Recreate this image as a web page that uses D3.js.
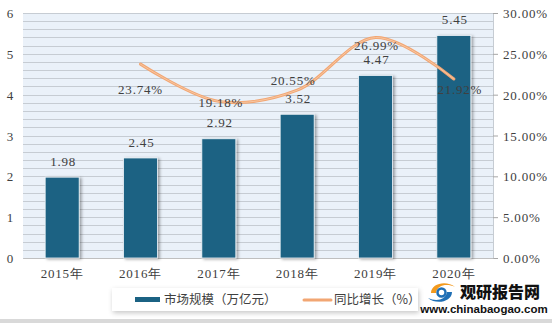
<!DOCTYPE html>
<html>
<head>
<meta charset="utf-8">
<script src="https://cdn.jsdelivr.net/npm/d3@7"></script>
<style>
  html, body { margin: 0; padding: 0; background: #fff; }
  svg { display: block; }
  .num { font-family: "Liberation Serif", "DejaVu Serif", serif; font-size: 13px; fill: #404040; letter-spacing: 0.8px; }
  .cjk { font-family: "Noto Sans CJK SC", sans-serif; }
</style>
</head>
<body>
<svg id="chart" width="552" height="323"></svg>
<script>
// Market size (trillion yuan) and year-on-year growth (%)
const years = ["2015年", "2016年", "2017年", "2018年", "2019年", "2020年"];
const marketSize = [1.98, 2.45, 2.92, 3.52, 4.47, 5.45];
const growthYears = ["2016年", "2017年", "2018年", "2019年", "2020年"];
const growth = [23.74, 19.18, 20.55, 26.99, 21.92];
const leftTicks = [0, 1, 2, 3, 4, 5, 6];
const rightTicks = [0, 5, 10, 15, 20, 25, 30];
const seriesNames = ["市场规模（万亿元）", "同比增长（%）"];

// hand-tuned label nudges for the growth labels [dx, dy]
const growthLabelNudge = [[0, 25], [2, 1], [-4, -10], [1, 8], [6, 10]];

const svg = d3.select("#chart");
const plot = { left: 23, right: 493, top: 13, bottom: 258 };

const defs = svg.append("defs");
const shadow = defs.append("filter").attr("id", "barShadow")
  .attr("x", "-30%").attr("y", "-10%").attr("width", "160%").attr("height", "130%");
shadow.append("feDropShadow").attr("dx", 2).attr("dy", 1).attr("stdDeviation", 1.6)
  .attr("flood-color", "#000").attr("flood-opacity", 0.35);
const boxShadow = defs.append("filter").attr("id", "boxShadow")
  .attr("x", "-10%").attr("y", "-40%").attr("width", "120%").attr("height", "180%");
boxShadow.append("feDropShadow").attr("dx", 1).attr("dy", 2).attr("stdDeviation", 2.5)
  .attr("flood-color", "#000").attr("flood-opacity", 0.22);

const x = d3.scaleBand().domain(years).range([plot.left, plot.right])
  .paddingInner(0.566).paddingOuter(0.283);
const yL = d3.scaleLinear().domain([0, 6]).range([plot.bottom, plot.top]);
const yR = d3.scaleLinear().domain([0, 30]).range([plot.bottom, plot.top]);

// plot background
svg.append("rect").attr("x", plot.left).attr("y", plot.top)
  .attr("width", plot.right - plot.left).attr("height", plot.bottom - plot.top)
  .attr("fill", "#eaf1f9");

// horizontal gridlines every 0.2
svg.append("g").selectAll("line").data(d3.range(0, 6.0001, 0.2))
  .join("line")
  .attr("x1", plot.left).attr("x2", plot.right)
  .attr("y1", d => Math.round(yL(d)) + 0.5).attr("y2", d => Math.round(yL(d)) + 0.5)
  .attr("stroke", "#c6ccd3").attr("stroke-width", 1);

// right border of the plot
svg.append("line").attr("x1", plot.right + 0.5).attr("x2", plot.right + 0.5)
  .attr("y1", plot.top).attr("y2", plot.bottom).attr("stroke", "#c6ccd3");

// left axis
const leftAxis = svg.append("g").attr("transform", `translate(${plot.left},0)`)
  .call(d3.axisLeft(yL).tickValues(leftTicks).tickFormat(d3.format("d"))
    .tickSize(0).tickPadding(9));
leftAxis.select(".domain").remove();
leftAxis.selectAll("text").attr("class", "num").attr("font-size", null).attr("font-family", null)
  .attr("dy", "0.35em");

// right axis
const rightAxis = svg.append("g").attr("transform", `translate(${plot.right},0)`)
  .call(d3.axisRight(yR).tickValues(rightTicks).tickSize(5).tickPadding(5)
    .tickFormat(d => d.toFixed(2) + "%"));
rightAxis.select(".domain").remove();
rightAxis.selectAll("line").attr("stroke", "#a6a6a6");
rightAxis.selectAll("text").attr("class", "num").attr("font-size", null).attr("font-family", null)
  .attr("dy", "0.35em");

// bottom axis
const bottomAxis = svg.append("g").attr("transform", `translate(0,${plot.bottom})`)
  .call(d3.axisBottom(x).tickSize(0).tickPadding(11));
bottomAxis.select(".domain").attr("stroke", "#bfbfbf");
bottomAxis.selectAll("text").attr("class", "num").attr("font-size", null).attr("font-family", null)
  .attr("letter-spacing", "0.3px");

// bars
svg.append("g").selectAll("rect").data(marketSize)
  .join("rect")
  .attr("x", (d, i) => x(years[i]))
  .attr("y", d => yL(d))
  .attr("width", x.bandwidth())
  .attr("height", d => plot.bottom - yL(d))
  .attr("fill", "#1b6283")
  .attr("stroke", "#f2f6fa").attr("stroke-width", 0.8)
  .attr("filter", "url(#barShadow)");

// bar value labels
svg.append("g").selectAll("text").data(marketSize)
  .join("text").attr("class", "num")
  .attr("x", (d, i) => x(years[i]) + x.bandwidth() / 2 + 1)
  .attr("y", d => yL(d) - 16)
  .attr("text-anchor", "middle").attr("dy", "0.35em")
  .text(d => d.toFixed(2));

// growth line
const pts = growth.map((g, i) => [x(growthYears[i]) + x.bandwidth() / 2, yR(g)]);
const line = d3.line().curve(d3.curveCatmullRom.alpha(0.5));
svg.append("path").attr("d", line(pts))
  .attr("fill", "none").attr("stroke", "#f2a673").attr("stroke-width", 3)
  .attr("stroke-linecap", "round");
svg.append("path").attr("d", line(pts))
  .attr("fill", "none").attr("stroke", "#f8c7a2").attr("stroke-width", 1)
  .attr("stroke-linecap", "round");

// growth labels
svg.append("g").selectAll("text").data(growth)
  .join("text").attr("class", "num")
  .attr("x", (d, i) => pts[i][0] + growthLabelNudge[i][0])
  .attr("y", (d, i) => pts[i][1] + growthLabelNudge[i][1])
  .attr("text-anchor", "middle").attr("dy", "0.35em")
  .text(d => d.toFixed(2) + "%");

// legend
const legend = svg.append("g");
legend.append("rect").attr("x", 112).attr("y", 288).attr("width", 306).attr("height", 23)
  .attr("fill", "#fff").attr("filter", "url(#boxShadow)");
legend.append("rect").attr("x", 135).attr("y", 297).attr("width", 25).attr("height", 5)
  .attr("fill", "#1b6283");
legend.append("text").attr("class", "cjk").attr("x", 164).attr("y", 300)
  .attr("dy", "0.35em").attr("font-size", 12.5).attr("fill", "#404040").text(seriesNames[0]);
legend.append("line").attr("x1", 304).attr("x2", 331).attr("y1", 300).attr("y2", 300)
  .attr("stroke", "#f2a673").attr("stroke-width", 3).attr("stroke-linecap", "round");
legend.append("text").attr("class", "cjk").attr("x", 334).attr("y", 300)
  .attr("dy", "0.35em").attr("font-size", 12.5).attr("fill", "#404040").text(seriesNames[1]);

// publisher mark
const logo = svg.append("g");
logo.append("path").attr("d", "M431,293 C431,283 447,280 455,287 C447,283 437,285 436,293 Z")
  .attr("fill", "#f39a1e");
logo.append("path").attr("d", "M452,292 C452,302 436,305 428,298 C436,302 446,300 447,292 Z")
  .attr("fill", "#1f6fb5");
logo.append("circle").attr("cx", 441.5).attr("cy", 292.5).attr("r", 4).attr("fill", "none")
  .attr("stroke", "#1f6fb5").attr("stroke-width", 2.5);
logo.append("text").attr("class", "cjk").attr("x", 500).attr("y", 292)
  .attr("text-anchor", "middle").attr("dy", "0.35em")
  .attr("font-size", 16).attr("font-weight", 900).attr("fill", "#111").text("观研报告网");
logo.append("text").attr("x", 484).attr("y", 309)
  .attr("text-anchor", "middle").attr("dy", "0.35em")
  .attr("font-family", "Liberation Sans, Arial, sans-serif")
  .attr("font-size", 11.5).attr("font-weight", 700).attr("fill", "#111")
  .text("www.chinabaogao.com");

// bottom band
svg.append("rect").attr("x", 0).attr("y", 319).attr("width", 552).attr("height", 4)
  .attr("fill", "#d9d9d9");
</script>
</body>
</html>
